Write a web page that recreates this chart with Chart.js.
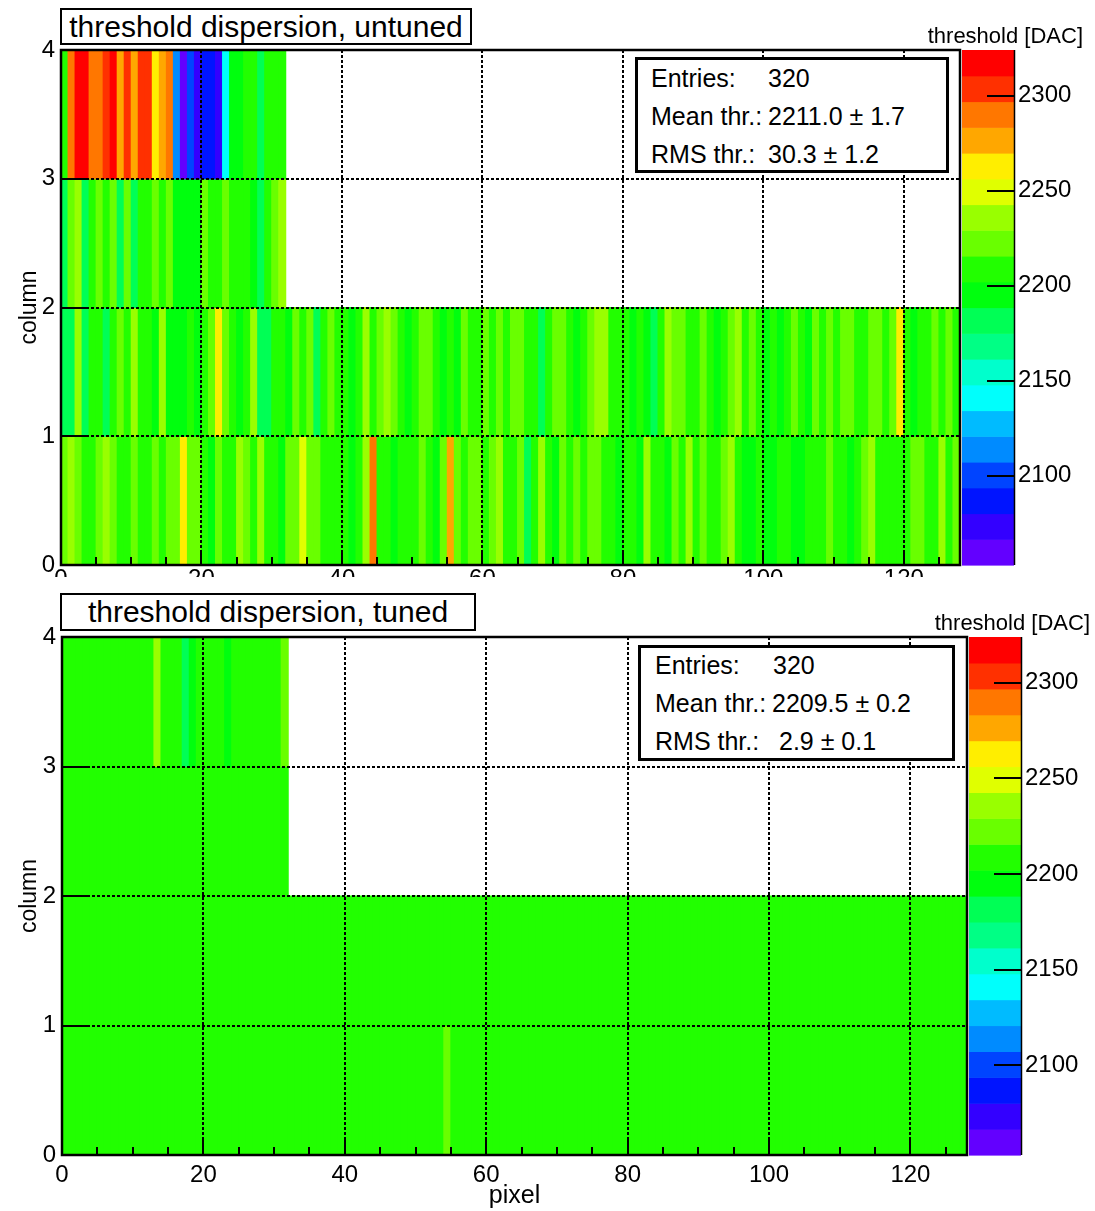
<!DOCTYPE html>
<html>
<head>
<meta charset="utf-8">
<script src="https://cdn.jsdelivr.net/npm/chart.js@4.4.0/dist/chart.umd.min.js"></script>
<style>
  html, body { margin: 0; padding: 0; background: #fff; }
  body { width: 1095px; height: 1211px; position: relative; overflow: hidden;
         font-family: 'Liberation Sans', Arial, Helvetica, sans-serif; color: #000; }
  .wrap { position: absolute; left: 0; }
  .tbox { position: absolute; box-sizing: border-box; border: 2px solid #000; background: #fff;
          font-size: 30px; display: flex; align-items: center; justify-content: center; white-space: nowrap; }
  .sbox { position: absolute; box-sizing: border-box; border: 3px solid #000; background: #fff; }
  .sbox span { position: absolute; font-size: 25px; line-height: 30px; height: 30px; white-space: pre; }
</style>
</head>
<body>
<div class="wrap" style="top:0;width:1095px;height:577px;"><canvas id="cUntuned" width="1095" height="577"></canvas></div>
<div class="wrap" style="top:580px;width:1095px;height:631px;"><canvas id="cTuned" width="1095" height="631"></canvas></div>

<div class="tbox" style="left:60px;top:8px;width:412px;height:37px;">threshold dispersion, untuned</div>
<div class="tbox" style="left:60px;top:593px;width:416px;height:38px;">threshold dispersion, tuned</div>

<div class="sbox" style="left:635px;top:57px;width:314px;height:116px;">
  <span style="left:13px;top:3px;">Entries:</span><span style="left:130px;top:3px;">320</span>
  <span style="left:13px;top:41px;">Mean thr.:</span><span style="left:130px;top:41px;">2211.0 ± 1.7</span>
  <span style="left:13px;top:79px;">RMS thr.:</span><span style="left:130px;top:79px;">30.3 ± 1.2</span>
</div>
<div class="sbox" style="left:638px;top:645px;width:317px;height:116px;">
  <span style="left:14px;top:2px;">Entries:</span><span style="left:132px;top:2px;">320</span>
  <span style="left:14px;top:40px;">Mean thr.:</span><span style="left:131px;top:40px;">2209.5 ± 0.2</span>
  <span style="left:14px;top:78px;">RMS thr.:</span><span style="left:138px;top:78px;">2.9 ± 0.1</span>
</div>

<script>
// ---------------- data (threshold in DAC per pixel, one array per column) ----------------
const untunedCol0 = [2222,2236,2221,2209,2207,2224,2235,2220,2211,2208,
 2223,2210,2206,2221,2212,2225,2219,2263,2222,2220,
 2208,2197,2223,2210,2207,2237,2221,2211,2234,2209,
 2212,2195,2224,2220,2250,2222,2219,2208,2211,2209,
 2210,2196,2207,2238,2291,2209,2212,2198,2208,2211,
 2206,2224,2210,2194,2221,2277,2223,2209,2220,2225,
 2211,2222,2236,2209,2207,2221,2183,2211,2234,2208,
 2196,2223,2210,2220,2209,2224,2219,2212,2207,2197,
 2210,2208,2195,2237,2211,2209,2198,2222,2208,2235,
 2212,2220,2209,2207,2223,2238,2210,2196,2199,2208,
 2194,2197,2211,2209,2196,2199,2207,2212,2210,2223,
 2208,2211,2195,2209,2221,2236,2210,2207,2212,2209,
 2208,2222,2220,2211,2209,2235,2207,2224];
const untunedCol1 = [2183,2181,2236,2184,2209,2211,2182,2208,2222,2210,
 2237,2207,2211,2197,2235,2195,2198,2196,2210,2199,
 2208,2223,2264,2221,2209,2196,2211,2236,2182,2180,
 2208,2210,2197,2224,2209,2222,2183,2211,2220,2208,
 2210,2195,2209,2237,2211,2223,2234,2221,2208,2198,
 2210,2222,2224,2209,2196,2211,2194,2221,2209,2207,
 2223,2210,2220,2211,2222,2225,2208,2210,2181,2209,
 2221,2223,2210,2196,2208,2222,2235,2237,2211,2209,
 2207,2197,2210,2195,2183,2209,2236,2222,2220,2211,
 2208,2223,2210,2196,2209,2221,2234,2211,2222,2208,
 2197,2210,2195,2209,2224,2211,2198,2221,2208,2223,
 2210,2220,2222,2209,2207,2224,2221,2210,2223,2262,
 2209,2196,2208,2211,2222,2210,2224,2209];
const untunedCol2 = [2183,2221,2236,2181,2209,2223,2210,2220,2184,2222,2182,2208,2211,2224,2209,2221,
 2197,2195,2198,2196,2222,2210,2207,2223,2209,2211,2208,2197,2182,2210,2221,2237];
const untunedCol3 = [2209,2291,2318,2316,2289,2292,2305,2317,2277,2303,2276,2304,2302,2264,2278,2290,
 2114,2060,2101,2073,2088,2086,2072,2141,2196,2197,2210,2208,2183,2211,2209,2210];

const tunedCol0 = [2209,2210,2208,2211,2209,2207,2210,2212,2209,2208,
 2211,2209,2210,2208,2207,2210,2209,2211,2212,2209,
 2208,2210,2209,2207,2211,2210,2209,2208,2210,2212,
 2209,2211,2208,2210,2209,2207,2210,2211,2209,2208,
 2210,2209,2212,2208,2210,2209,2211,2207,2209,2210,
 2208,2211,2209,2210,2222,2209,2208,2210,2211,2209,
 2207,2210,2209,2212,2208,2210,2209,2211,2210,2208,
 2209,2207,2211,2210,2209,2208,2210,2212,2209,2211,
 2208,2209,2210,2207,2211,2209,2210,2208,2209,2211,
 2210,2209,2208,2212,2210,2209,2207,2211,2209,2210,
 2208,2210,2209,2211,2208,2210,2212,2209,2207,2210,
 2209,2211,2208,2210,2209,2212,2208,2210,2209,2211,
 2207,2210,2209,2208,2211,2210,2209,2208];
const tunedCol1 = [2210,2209,2211,2208,2210,2209,2212,2208,2210,2209,
 2207,2211,2209,2210,2208,2209,2211,2210,2208,2209,
 2212,2210,2209,2208,2211,2209,2207,2210,2209,2211,
 2208,2210,2209,2211,2210,2208,2209,2212,2210,2209,
 2211,2208,2209,2210,2207,2211,2209,2210,2208,2209,
 2210,2212,2208,2209,2211,2210,2209,2207,2210,2208,
 2209,2211,2210,2209,2208,2212,2209,2210,2211,2209,
 2208,2210,2209,2211,2207,2209,2210,2208,2211,2209,
 2210,2209,2212,2208,2209,2210,2211,2209,2208,2210,
 2209,2207,2211,2210,2209,2208,2210,2209,2212,2209,
 2211,2208,2210,2209,2210,2211,2208,2209,2210,2207,
 2209,2210,2211,2208,2209,2210,2212,2209,2208,2210,
 2211,2209,2208,2210,2209,2211,2210,2209];
const tunedCol2 = [2209,2211,2210,2208,2209,2212,2210,2209,2208,2211,2209,2210,2207,2209,2211,2210,
 2208,2209,2210,2211,2209,2208,2210,2212,2209,2210,2208,2211,2209,2210,2209,2208];
const tunedCol3 = [2209,2210,2208,2211,2209,2210,2208,2209,2211,2210,2209,2208,2210,2236,2209,2211,
 2210,2182,2197,2209,2210,2208,2211,2196,2209,2210,2208,2211,2209,2210,2208,2223];

const pixelRange = [0, 128];
const columnRange = [0, 4];
const zRange = [2053, 2324];
const nContours = 20;
const zTitle = 'threshold [DAC]';
const xTitle = 'pixel';
const yTitle = 'column';

// ---------------- ROOT "pretty" palette (violet -> red) ----------------
const FONT = "'Liberation Sans', Arial, Helvetica, sans-serif";
function bandColor(k) {
  const idx = Math.floor((k + 0.99) * 50 / nContours);
  const hue = 280 - (idx + 1) * 5.6;
  return 'hsl(' + hue.toFixed(1) + ',100%,50%)';
}
function contourIndex(v) {
  const step = (zRange[1] - zRange[0]) / nContours;
  let k = Math.floor((v - zRange[0]) / step);
  return Math.max(0, Math.min(nContours - 1, k));
}

const rootDecor = {
  id: 'rootDecor',
  afterDatasetsDraw(chart) {
    const ctx = chart.ctx;
    const a = chart.chartArea;
    const xs = chart.scales.x, ys = chart.scales.y, zs = chart.scales.z;
    ctx.save();
    // dashed grid
    ctx.strokeStyle = '#000';
    ctx.lineWidth = 2;
    ctx.setLineDash([3, 2]);
    xs.ticks.forEach(t => {
      if (t.value % 20 !== 0 || t.value === xs.min) return;
      const px = Math.round(xs.getPixelForValue(t.value));
      ctx.beginPath(); ctx.moveTo(px, a.top); ctx.lineTo(px, a.bottom); ctx.stroke();
    });
    ys.ticks.forEach(t => {
      if (t.value === ys.min || t.value === ys.max) return;
      const py = Math.round(ys.getPixelForValue(t.value));
      ctx.beginPath(); ctx.moveTo(a.left, py); ctx.lineTo(a.right, py); ctx.stroke();
    });
    ctx.setLineDash([]);
    // tick marks (inside)
    ctx.lineWidth = 2;
    xs.ticks.forEach(t => {
      const px = Math.round(xs.getPixelForValue(t.value));
      const len = (t.value % 20 === 0) ? 15 : 8;
      ctx.beginPath(); ctx.moveTo(px, a.bottom); ctx.lineTo(px, a.bottom - len); ctx.stroke();
    });
    ys.ticks.forEach(t => {
      const py = Math.round(ys.getPixelForValue(t.value));
      ctx.beginPath(); ctx.moveTo(a.left, py); ctx.lineTo(a.left + 26, py); ctx.stroke();
    });
    // frame
    ctx.lineWidth = 2.5;
    ctx.strokeRect(a.left, a.top, a.right - a.left, a.bottom - a.top);
    // colour bar
    const bl = a.right + 2, br = a.right + 54;
    const step = (zRange[1] - zRange[0]) / nContours;
    for (let k = 0; k < nContours; k++) {
      const y1 = zs.getPixelForValue(zRange[0] + k * step);
      const y2 = zs.getPixelForValue(zRange[0] + (k + 1) * step);
      ctx.fillStyle = bandColor(k);
      ctx.fillRect(bl, Math.min(y1, y2), br - bl, Math.abs(y1 - y2) + 0.6);
    }
    ctx.lineWidth = 1.5;
    ctx.beginPath(); ctx.moveTo(br + 0.5, zs.top); ctx.lineTo(br + 0.5, zs.bottom); ctx.stroke();
    ctx.lineWidth = 2;
    zs.ticks.forEach(t => {
      const py = Math.round(zs.getPixelForValue(t.value));
      ctx.beginPath(); ctx.moveTo(br - 27, py); ctx.lineTo(br, py); ctx.stroke();
    });
    // colour bar title
    ctx.fillStyle = '#000';
    ctx.font = '22px ' + FONT;
    ctx.textAlign = 'right';
    ctx.textBaseline = 'alphabetic';
    ctx.fillText(zTitle, br + 69, a.top - 7);
    ctx.restore();
  }
};

function makeChart(id, cols, geo) {
  const cells = [];
  cols.forEach((vals, r) => vals.forEach((v, i) => cells.push({ x: i + 0.5, y: [r, r + 1], v: v })));
  const tickFont = { family: FONT, size: 24 };
  const sideFont = { family: FONT, size: 24, lineHeight: 0.5 };
  return new Chart(document.getElementById(id), {
    type: 'bar',
    data: {
      datasets: [{
        data: cells,
        xAxisID: 'x', yAxisID: 'y',
        backgroundColor: c => bandColor(contourIndex(c.raw ? c.raw.v : zRange[0])),
        borderWidth: 0,
        barPercentage: 1,
        categoryPercentage: 1,
        inflateAmount: 0.5
      }]
    },
    options: {
      responsive: false,
      animation: false,
      events: [],
      layout: { padding: { top: geo.top, left: 0, right: 0, bottom: 0 } },
      plugins: { legend: { display: false }, tooltip: { enabled: false }, title: { display: false } },
      scales: {
        x: {
          type: 'linear', position: 'bottom', min: pixelRange[0], max: pixelRange[1], offset: false,
          grid: { display: false, drawTicks: false, offset: false }, border: { display: false },
          ticks: { stepSize: 5, includeBounds: false, autoSkip: false, maxRotation: 0, minRotation: 0,
                   padding: geo.xPad, color: '#000', font: tickFont,
                   callback: v => (v % 20 === 0 ? String(v) : '') },
          title: { display: geo.showXTitle, text: xTitle, color: '#000', font: { family: FONT, size: 25 },
                   padding: { top: 0, bottom: 0 } },
          afterFit: s => { s.height = geo.xAxisH; }
        },
        y: {
          type: 'linear', position: 'left', min: columnRange[0], max: columnRange[1],
          grid: { display: false, drawTicks: false }, border: { display: false },
          ticks: { stepSize: 1, includeBounds: false, padding: 6, color: '#000', font: sideFont,
                   callback: v => String(v) },
          title: { display: true, text: yTitle, color: '#000', font: { family: FONT, size: 23 },
                   padding: { top: 16, bottom: 0 } },
          afterFit: s => { s.width = geo.left; }
        },
        z: {
          axis: 'y', type: 'linear', position: 'right', min: zRange[0], max: zRange[1],
          grid: { display: true, drawOnChartArea: false, drawTicks: true, tickLength: 54,
                  tickColor: 'rgba(0,0,0,0)', color: 'rgba(0,0,0,0)' },
          border: { display: false },
          ticks: { stepSize: 50, includeBounds: false, padding: 4, color: '#000', font: sideFont,
                   callback: v => String(v) },
          afterFit: s => { s.width = 1095 - geo.right; }
        }
      }
    },
    plugins: [rootDecor]
  });
}

makeChart('cUntuned', [untunedCol0, untunedCol1, untunedCol2, untunedCol3],
  { top: 50, left: 61, right: 960, xAxisH: 12, xPad: 0, showXTitle: false });
makeChart('cTuned', [tunedCol0, tunedCol1, tunedCol2, tunedCol3],
  { top: 57, left: 62, right: 967, xAxisH: 56, xPad: 6, showXTitle: true });
</script>
</body>
</html>
